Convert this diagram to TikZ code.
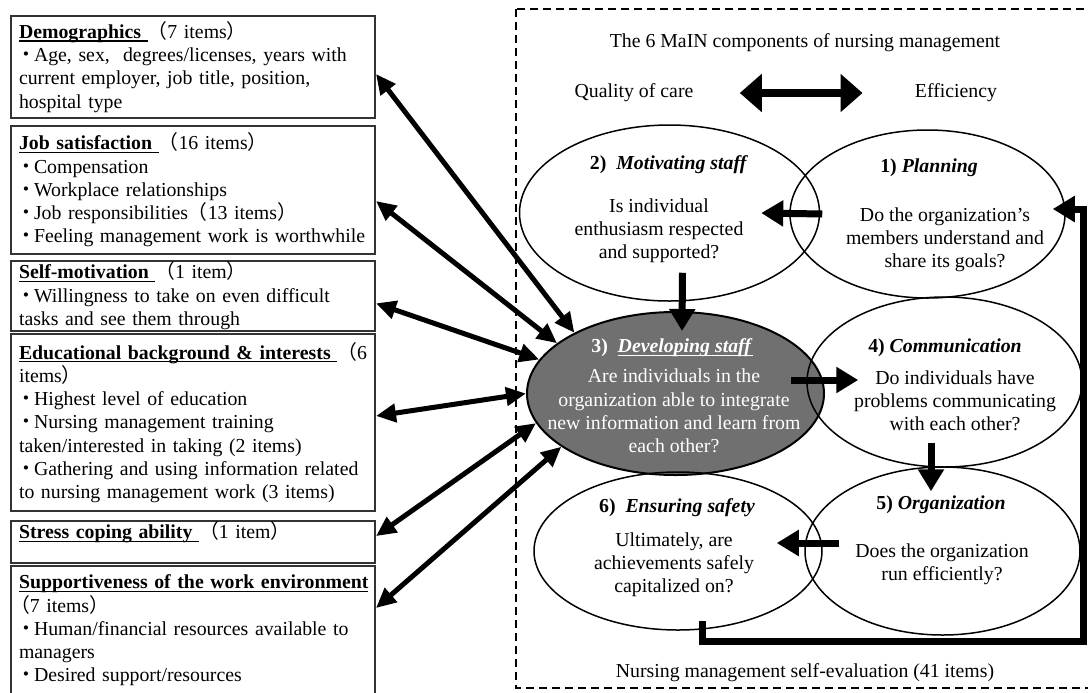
\documentclass[tikz,border=0pt]{standalone}
\usepackage{fontspec}
\setmainfont{Liberation Serif}
\newfontfamily\cjk{Noto Sans CJK JP}
\usetikzlibrary{shapes.geometric,arrows.meta}
\definecolor{devgray}{RGB}{112,112,112}
\newcommand\jdot{\makebox[7.5pt][c]{\cjk ・}}
\newcommand\jlp{{\cjk （}}
\newcommand\jrp{{\cjk ）}}
\newcommand\uline[1]{\sbox0{#1}\rlap{\rule[-1.6pt]{\wd0}{0.65pt}}\usebox0}

\begin{document}
\begin{tikzpicture}[x=0.5pt, y=-0.5pt, line width=0.75pt,
  every node/.style={font=\fontsize{9.9}{11.6}\selectfont},
  itembox/.style={draw=black!80, line width=1pt, anchor=north west, align=left, text width=174pt, inner xsep=4pt, inner ysep=0.5pt},
  oval/.style={draw, ellipse, inner sep=0pt},
  head/.style={font=\fontsize{9.9}{11.6}\selectfont\bfseries},
  body/.style={align=center},
  flow/.style={line width=3.5pt, -{Triangle[length=11pt, width=12.5pt]}},
  link/.style={line width=2.5pt, {Triangle[length=10pt, width=9pt]}-{Triangle[length=10pt, width=9pt]}}]
  \useasboundingbox (0,0) rectangle (1088,692);

  % left: questionnaire items
  \node[itembox, minimum height=51pt] (demo) at (10,15) {\uline{\textbf{Demographics }}\jlp 7 items\jrp\\
    \jdot Age, sex,\ \ degrees/licenses,\ years with\\ current employer, job title, position,\\ hospital type};
  \node[itembox, minimum height=64pt] (job) at (10,125) {\uline{\textbf{Job satisfaction }}\jlp 16 items\jrp\\
    \jdot Compensation\\ \jdot Workplace relationships\\ \jdot Job responsibilities\jlp 13 items\jrp\\ \jdot Feeling management\ work is worthwhile};
  \node[itembox, minimum height=34.5pt] (self) at (10,260) {\uline{\textbf{Self-motivation }}\jlp 1 item\jrp\\
    \jdot Willingness to take on even difficult\\ tasks and see them through};
  \node[itembox, minimum height=88.5pt] (educ) at (10,333) {\uline{\textbf{Educational background \& interests }}\jlp 6\\ items\jrp\\
    \jdot Highest level of education\\ \jdot Nursing management\ training\\ taken/interested in taking (2 items)\\
    \jdot Gathering and using information related\\ to nursing management\ work (3 items)};
  \node[itembox, minimum height=21pt] (stress) at (10,520) {\uline{\textbf{Stress coping ability }}\jlp 1 item\jrp\\ \mbox{}};
  \node[itembox, minimum height=64.5pt] (supp) at (10,565) {\uline{\textbf{Supportiveness of the work environment}}\\
    \hspace*{-4.5pt}\jlp 7 items\jrp\\ \jdot Human/financial resources available to\\ managers\\ \jdot Desired support/resources};

  % right: the 6 components
  \draw[dash pattern=on 4pt off 2.5pt, line width=0.6pt] (516,9) rectangle (1096,688);
  \node (title) at (805,43) {The 6 MaIN\ components of nursing management};
  \node (qual) at (634,93) {Quality of care};
  \node (eff) at (956,93) {Efficiency};
  \draw[line width=4pt, {Triangle[length=11pt, width=18.5pt]}-{Triangle[length=11pt, width=18.5pt]}, shorten <=19.5pt, shorten >=22.5pt] (qual.east) -- (eff.west);

  \node[oval, fill=devgray, line width=1pt, minimum width=148.5pt, minimum height=81.5pt] (e3) at (675.5,393.5) {};
  \node[oval, minimum width=137.5pt, minimum height=84pt] (e1) at (927.5,214) {};
  \node[oval, minimum width=150pt, minimum height=88pt] (e2) at (669.5,213) {};
  \node[oval, minimum width=137.5pt, minimum height=85pt] (e4) at (944.5,382) {};
  \node[oval, minimum width=137.5pt, minimum height=84pt] (e5) at (942.5,551) {};
  \node[oval, minimum width=144pt, minimum height=79pt] (e6) at (678,551) {};

  \node[head] (h1) at (929,168) {1) \textit{Planning}};
  \node[body] (b1) at (945,240) {Do the organization’s\\ members understand and\\ share its goals?};
  \node[head] (h2) at (669,165) {2)\ \ \textit{Motivating staff}};
  \node[body] (b2) at (659,231) {Is individual\\ enthusiasm respected\\ and supported?};
  \node[head, text=white] (h3) at (672,348) {3)\ \ \uline{\textit{Developing staff}}};
  \node[body, text=white] (b3) at (674,411) {Are individuals in the\\ organization able to integrate\\ new information and learn from\\ each other?};
  \node[head] (h4) at (945,348) {4) \textit{Communication}};
  \node[body] (b4) at (955,401) {Do individuals have\\ problems communicating\\ with each other?};
  \node[head] (h5) at (941,505) {5) \textit{Organization}};
  \node[body] (b5) at (942,564) {Does the organization\\ run efficiently?};
  \node[head] (h6) at (677,508) {6)\ \ \textit{Ensuring safety}};
  \node[body] (b6) at (674,565) {Ultimately, are\\ achievements\ safely\\ capitalized\ on?};
  \node (note) at (805,673) {Nursing management\ self-evaluation (41 items)};

  % cycle between components
  \draw[flow] ([xshift=16.5pt]e1.west) -- ([xshift=-29.5pt]e2.east);
  \draw[flow] ([shift={(13,-29)}]e2.south) -- ([shift={(6.5,20)}]e3.north);
  \draw[flow] ([shift={(-34,-13.5)}]e3.east) -- ([shift={(52,-2)}]e4.west);
  \draw[flow] ([shift={(-13.5,-25)}]e4.south) -- ([shift={(-11.5,25)}]e5.north);
  \draw[flow] ([shift={(35,-8)}]e5.west) -- ([shift={(-46,-8)}]e6.east);
  \coordinate (turn) at (1083,641);
  \draw[flow] ([shift={(24,-10)}]e6.south) |- (turn) |- ([shift={(-13,-5)}]e1.east);

  % items linked to developing staff
  \foreach \b/\dy/\a in {demo/7/149, job/11/157, self/7.5/166, educ/-6.5/180, stress/-6/192, supp/-22.5/205}
    \draw[link] ([shift={(0,\dy)}]\b.east) -- (e3.\a);
\end{tikzpicture}
\end{document}
